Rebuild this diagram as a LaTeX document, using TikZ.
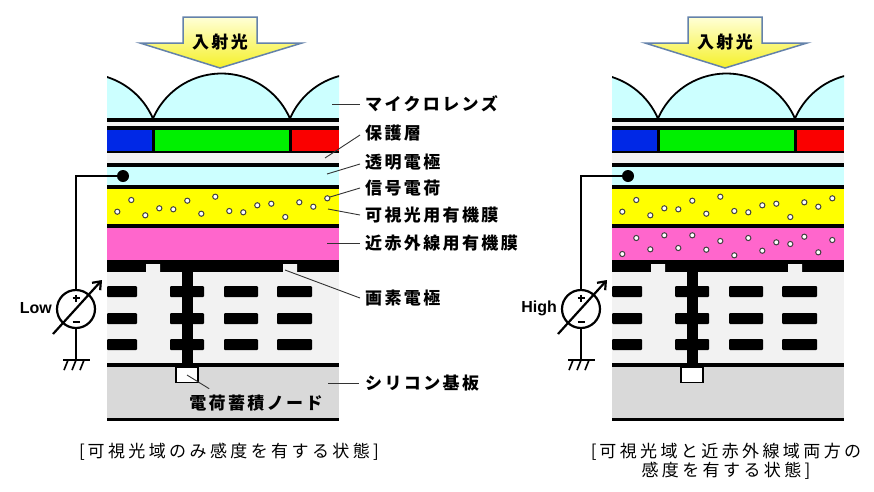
\documentclass[tikz,border=0pt]{standalone}
\usepackage{fontspec}
\setsansfont{Liberation Sans}
\newfontfamily\jp[LetterSpace=14]{Noto Sans CJK JP}
\newfontfamily\jpcap[LetterSpace=20]{Noto Sans CJK JP}
\usetikzlibrary{arrows.meta}

\definecolor{lenscyan}{RGB}{204,255,255}
\definecolor{cfblue}{RGB}{0,40,230}
\definecolor{cfgreen}{RGB}{0,240,0}
\definecolor{cfred}{RGB}{250,0,0}
\definecolor{visyellow}{RGB}{255,255,0}
\definecolor{nirpink}{RGB}{255,102,204}
\definecolor{protgray}{RGB}{242,242,242}
\definecolor{wiregray}{RGB}{242,242,242}
\definecolor{subgray}{RGB}{217,217,217}
\definecolor{arrowedge}{RGB}{100,130,170}

\tikzset{
  lbl/.style={anchor=west,inner sep=0pt,font=\jp\bfseries\fontsize{17}{17}\selectfont},
  caption/.style={inner sep=0pt,font=\jpcap\fontsize{17}{19}\selectfont},
  lowhigh/.style={anchor=east,inner sep=0pt,font=\sffamily\bfseries\fontsize{16}{16}\selectfont},
  lead/.style={draw=black!80,line width=0.9pt},
  wire/.style={line width=2.2pt},
  charge/.style={draw=black!75,fill=white,line width=1pt},
  inarrow/.style={draw=arrowedge,line width=1.5pt,top color={rgb,255:red,255;green,255;blue,215},bottom color={rgb,255:red,245;green,240;blue,40}},
  dotnode/.style={circle,fill,inner sep=0pt,minimum size=12pt},
  source/.style={circle,draw,line width=2.2pt,inner sep=0pt,minimum size=38pt},
}

% one pixel: lenses, filters, films, wiring and bias source
\newcommand{\pixelcell}[1]{%
  % incoming light
  \filldraw[inarrow] (183,17) -- (257,17) -- (257,43) -- (302,43) -- (220,68) -- (140,43) -- (183,43) -- cycle;
  \node[inner sep=0pt,font=\jp\bfseries\fontsize{17}{17}\selectfont] (#1-in) at (220,42) {入射光};
  % micro lenses
  \begin{scope}
    \clip (107,40) rectangle (339,119);
    \foreach \cx in {84.5,221.5,358.5}{
      \fill[lenscyan] (\cx-68.5,118.5) arc[start angle=-156.6,end angle=-23.4,radius=74.6] -- cycle;
      \draw[line width=1.8pt] (\cx-68.5,118.5) arc[start angle=-156.6,end angle=-23.4,radius=74.6];
    }
  \end{scope}
  \fill (107,118) rectangle (339,122);
  \fill[protgray] (107,122) rectangle (339,126);
  % colour filters
  \fill (107,126) rectangle (339,152.5);
  \fill[cfblue] (107,130) rectangle (152,150.5);
  \fill[cfgreen] (155,130) rectangle (289,150.5);
  \fill[cfred] (292,130) rectangle (339,150.5);
  % protection layer, upper electrode, organic films
  \fill[protgray] (107,152.5) rectangle (339,162.5);
  \fill (107,162.5) rectangle (339,166.5);
  \fill[lenscyan] (107,166.5) rectangle (339,184.5);
  \fill (107,184.5) rectangle (339,188.5);
  \fill[visyellow] (107,188.5) rectangle (339,223.5);
  \fill (107,223.5) rectangle (339,227.5);
  \fill[nirpink] (107,227.5) rectangle (339,259.5);
  % pixel electrode and wiring layer
  \fill (107,259.5) rectangle (339,272);
  \fill[wiregray] (107,272) rectangle (339,363);
  \fill[wiregray] (146,264) rectangle (160,272.5) (283,264) rectangle (297,272.5);
  \fill (107,363) rectangle (339,367);
  \fill[subgray] (107,367) rectangle (339,418);
  \fill (107,418) rectangle (339,421);
  \fill (182,271) rectangle (193,368);
  \foreach \yy in {286,313,339}
    \foreach \a/\b in {107/137,170/204,224/258,277/312}
      \fill[rounded corners=1pt] (\a,\yy) rectangle (\b,\yy+11);
  \node[draw,fill=white,line width=1.8pt,inner sep=0pt,minimum width=22pt,minimum height=15pt] (#1-fd) at (187,375) {};
  % signal charges in the visible film
  \foreach \yy [count=\k from 0] in {211.7,200,215.3,208.3,209.3,200.7,213.7,196.7,211,212.3,205.3,203.7,217,202.3,206.7,198.3}
    \draw[charge] ({117.3+14*\k},\yy) circle (2.6);
  % bias source
  \node[dotnode] (#1-dot) at (123,176) {};
  \node[source] (#1-src) at (76,309) {};
  \draw[wire] (#1-dot.center) -| (#1-src.north);
  \draw[wire] (#1-src.south) -- ++(0,31) coordinate (#1-gnd);
  \draw[line width=2pt] ([xshift=-13pt]#1-gnd) -- ([xshift=14pt]#1-gnd);
  \foreach \dx in {-8,0,8}
    \draw[line width=1.6pt] ([xshift=\dx pt]#1-gnd) -- ++(-4,10);
  \draw[line width=1.5pt] ([yshift=11pt]#1-src.center) ++(-3.5,0) -- ++(7,0)
    ([yshift=11pt]#1-src.center) ++(0,-3.5) -- ++(0,7);
  \draw[line width=1.5pt] ([yshift=-13pt]#1-src.center) ++(-3.5,0) -- ++(7,0);
  \draw[wire,-{Straight Barb[length=7pt,width=11pt]}] ([shift={(-23pt,-25pt)}]#1-src.center) -- ([shift={(26pt,29pt)}]#1-src.center);
}

\begin{document}
\begin{tikzpicture}[x=1pt,y=-1pt]
\useasboundingbox[fill=white] (0,0) rectangle (874,491);

%% visible only
\pixelcell{L}
\node[lowhigh] (low) at (52,308) {Low};

\node[lbl] (mlens) at (365,104) {マイクロレンズ};
\node[lbl] (prot) at (365,133) {保護層};
\node[lbl] (tele) at (365,162) {透明電極};
\node[lbl] (sig) at (365,188) {信号電荷};
\node[lbl] (visf) at (365,215) {可視光用有機膜};
\node[lbl] (nirf) at (365,243) {近赤外線用有機膜};
\node[lbl] (pele) at (365,298) {画素電極};
\node[lbl] (sub) at (365,383) {シリコン基板};
\node[lbl,anchor=center] (snode) at (256,403) {電荷蓄積ノード};

\draw[lead] (332,104) -- ([xshift=-5pt]mlens.west);
\draw[lead] (325,158) -- ([xshift=-5pt,yshift=-2pt]prot.west);
\draw[lead] (327,174) -- ([xshift=-5pt,yshift=-2pt]tele.west);
\draw[lead] (330,197) -- ([xshift=-5pt]sig.west);
\draw[lead] (328,209) -- ([xshift=-5pt]visf.west);
\draw[lead] (327,243) -- ([xshift=-5pt]nirf.west);
\draw[lead] (285,270) -- ([xshift=-5pt]pele.west);
\draw[lead] (328,383) -- ([xshift=-6pt]sub.west);
\draw[lead] (L-fd.center) -- ([xshift=20pt,yshift=6pt]snode.north west);

\node[caption] (capL) at (229,452) {[\,可視光域のみ感度を有する状態]};

%% visible and near infrared
\begin{scope}[xshift=505pt]
\pixelcell{R}
\foreach \yy [count=\k from 0] in {254,238,249.3,235.3,248,235.3,249.7,241,255.3,238,250.7,242.3,244,236.7,252.3,240}
  \draw[charge] ({117.3+14*\k},\yy) circle (2.6);
\node[lowhigh] (high) at (52,308) {High};
\end{scope}

\node[caption,align=center] (capR) at (726,461) {[\,可視光域と近赤外線域両方の\\感度を有する状態]};

\end{tikzpicture}
\end{document}
